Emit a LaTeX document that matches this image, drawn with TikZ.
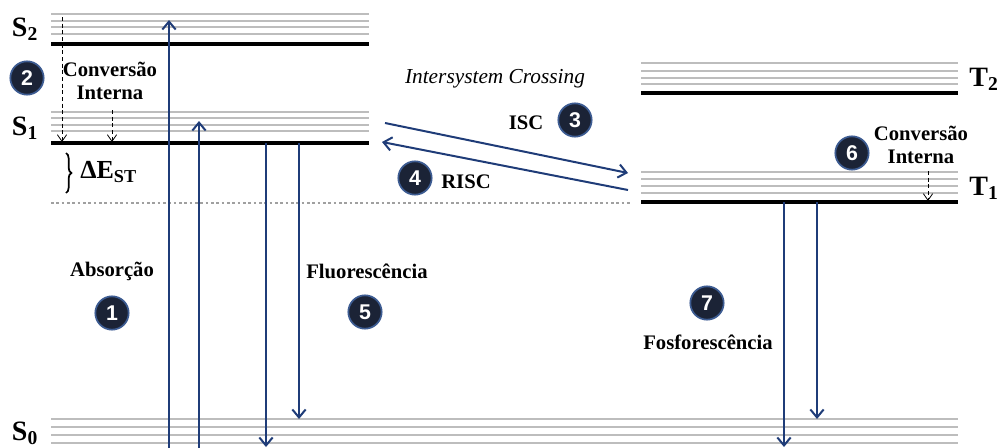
\documentclass[tikz,border=0pt]{standalone}
\usepackage{fontspec}
\setmainfont{Liberation Serif}
\newfontfamily\digitfont{Liberation Sans}
\usetikzlibrary{arrows.meta,decorations.pathreplacing}
\definecolor{arrowblue}{HTML}{1F3C78}
\definecolor{circfill}{HTML}{1B2336}
\definecolor{circrim}{HTML}{3D5C92}
\definecolor{sublevel}{HTML}{BDBDBD}
\definecolor{dotgrey}{HTML}{A0A0A0}
\tikzset{
  sub/.style={draw=sublevel, line width=0.8pt},
  main/.style={draw=black, line width=3pt},
  trans/.style={draw=arrowblue, line width=1.5pt, -{Straight Barb[length=6pt,width=10pt,line width=1.5pt]}},
  ic/.style={draw=black, line width=0.6pt, dashed, dash pattern=on 3pt off 2pt, -{Straight Barb[length=5pt,width=7pt,line width=0.6pt]}},
  num/.style={circle, fill=circfill, draw=circrim, line width=1.3pt, minimum size=25pt, inner sep=0pt, text=white, font=\digitfont\bfseries\fontsize{16}{16}\selectfont},
  lbl/.style={font=\bfseries\fontsize{15.5}{17}\selectfont, align=center, inner sep=0pt},
  lev/.style={font=\bfseries\fontsize{21}{21}\selectfont, inner sep=0pt},
}
\begin{document}
\begin{tikzpicture}[x=0.75pt,y=-0.75pt]
\useasboundingbox (0,0) rectangle (1000,447);
% S2
\foreach \y in {14,21,27,34} \draw[sub] (51,\y) -- (369,\y);
\draw[main] (51,44) -- (369,44);
% S1
\foreach \y in {112,118,125,131} \draw[sub] (51,\y) -- (369,\y);
\draw[main] (51,143) -- (369,143);
% dotted
\draw[dotgrey, line width=2pt, dash pattern=on 2pt off 2pt] (51,203) -- (632,203);
% T2
\foreach \y in {63,71,78,84} \draw[sub] (641,\y) -- (958,\y);
\draw[main] (641,93) -- (958,93);
% T1
\foreach \y in {172,179,186,193} \draw[sub] (641,\y) -- (958,\y);
\draw[main] (641,202) -- (958,202);
% S0
\foreach \y in {419,427,435,443} \draw[sub] (51,\y) -- (958,\y);

% level labels
\node[lev] (s2) at (25,29) {S\textsubscript{2}};
\node[lev] (s1) at (25,128) {S\textsubscript{1}};
\node[lev] (s0) at (25,433) {S\textsubscript{0}};
\node[lev] (t2) at (984,79) {T\textsubscript{2}};
\node[lev] (t1) at (984,188) {T\textsubscript{1}};

% coordinates
\coordinate (a1s) at (169,450); \coordinate (a1e) at (169,20);
\coordinate (a2s) at (199,450); \coordinate (a2e) at (199,121);
\coordinate (f1s) at (266,143); \coordinate (f1e) at (266,447);
\coordinate (f2s) at (299,143); \coordinate (f2e) at (299,419);
\coordinate (p1s) at (784,202); \coordinate (p1e) at (784,447);
\coordinate (p2s) at (817,202); \coordinate (p2e) at (817,419);
\coordinate (iscs) at (385,123); \coordinate (isce) at (628,173);
\coordinate (riscs) at (628,190); \coordinate (risce) at (382,142);
\coordinate (ic1s) at (62,17); \coordinate (ic1e) at (62,142);
\coordinate (ic2s) at (112,110); \coordinate (ic2e) at (112,142);
\coordinate (ic3s) at (928,171); \coordinate (ic3e) at (928,201);

\draw[trans] (a1s) -- (a1e);
\draw[trans] (a2s) -- (a2e);
\draw[trans] (f1s) -- (f1e);
\draw[trans] (f2s) -- (f2e);
\draw[trans] (p1s) -- (p1e);
\draw[trans] (p2s) -- (p2e);
\draw[trans] (iscs) -- (isce);
\draw[trans] (riscs) -- (risce);
\draw[ic] (ic1s) -- (ic1e);
\draw[ic] (ic2s) -- (ic2e);
\draw[ic] (ic3s) -- (ic3e);

% Delta E_ST
\coordinate (bt) at (66,153); \coordinate (bb) at (66,193);
\draw[line width=1.3pt, decorate, decoration={brace, amplitude=4pt}] (bt) -- (bb);
\node[lev, font=\bfseries\fontsize{19.5}{20}\selectfont, anchor=west] (dest) at (80,172) {ΔE\textsubscript{ST}};

% labels
\node[lbl] (ci1) at (110,81) {Conversão\\Interna};
\node[lbl] (ci2) at (921,145) {Conversão\\Interna};
\node[font=\itshape\fontsize{16}{16}\selectfont, inner sep=0pt] (isct) at (495,79) {Intersystem Crossing};
\node[lbl] (isc) at (526,123) {ISC};
\node[lbl] (risc) at (466,182) {RISC};
\node[lbl] (abs) at (112,271) {Absorção};
\node[lbl] (flu) at (367,271) {Fluorescência};
\node[lbl] (fos) at (708,342) {Fosforescência};

% numbers
\node[num] (n1) at (112,313) {1};
\node[num] (n2) at (27,78) {2};
\node[num] (n3) at (575,120) {3};
\node[num] (n4) at (415,178) {4};
\node[num] (n5) at (365,312) {5};
\node[num] (n6) at (852,153) {6};
\node[num] (n7) at (707,303) {7};
\end{tikzpicture}
\end{document}
